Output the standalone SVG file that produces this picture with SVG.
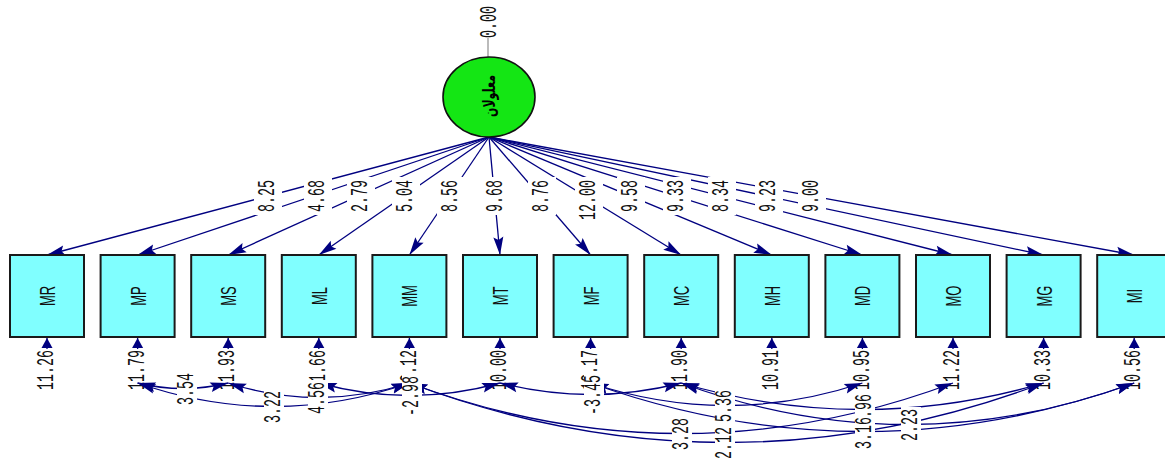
<svg xmlns="http://www.w3.org/2000/svg" width="1165" height="461" viewBox="0 0 1165 461">
<defs>
<style>
.ln{stroke:#000080;stroke-width:1.3;fill:none}
.top{marker-end:url(#ah)}
.cov{marker-start:url(#ah);marker-end:url(#ah)}
.err{marker-end:url(#eh)}
.num{font-family:"Liberation Mono","DejaVu Sans Mono",monospace;font-size:13.3px;fill:#111}
.nm{font-family:"Liberation Sans",Arial,sans-serif;font-size:13px;fill:#111}
.bx{fill:#80ffff;stroke:#1a1a1a;stroke-width:2}
.bg{fill:#fff}
</style>
<marker id="ah" markerUnits="userSpaceOnUse" markerWidth="20" markerHeight="12" refX="18" refY="5" orient="auto-start-reverse" overflow="visible"><path d="M0,0 L18,5 L0,10 L3,5 z" fill="#000080"/></marker>
<marker id="eh" markerUnits="userSpaceOnUse" markerWidth="12" markerHeight="12" refX="10" refY="5.5" orient="auto" overflow="visible"><path d="M0,0 L10,5.5 L0,11 z" fill="#000080"/></marker>
</defs>
<rect width="1165" height="461" fill="#fff"/>

<g id="connectors">
<line x1="488" y1="38" x2="488" y2="57" stroke="#bbb" stroke-width="2"/>
<path class="ln top" d="M489,137 L47,255"/>
<path class="ln top" d="M489,137 L137.6,255"/>
<path class="ln top" d="M489,137 L228.2,255"/>
<path class="ln top" d="M489,137 L318.8,255"/>
<path class="ln top" d="M489,137 L409.4,255"/>
<path class="ln top" d="M489,137 L500,255"/>
<path class="ln top" d="M489,137 L590.6,255"/>
<path class="ln top" d="M489,137 L681.2,255"/>
<path class="ln top" d="M489,137 L771.8,255"/>
<path class="ln top" d="M489,137 L862.4,255"/>
<path class="ln top" d="M489,137 L953,255"/>
<path class="ln top" d="M489,137 L1043.6,255"/>
<path class="ln top" d="M489,137 L1134.2,255"/>

<path class="ln err" d="M47,349 L47,338"/>
<path class="ln err" d="M137.6,349 L137.6,338"/>
<path class="ln err" d="M228.2,349 L228.2,338"/>
<path class="ln err" d="M318.8,349 L318.8,338"/>
<path class="ln err" d="M409.4,349 L409.4,338"/>
<path class="ln err" d="M500,349 L500,338"/>
<path class="ln err" d="M590.6,349 L590.6,338"/>
<path class="ln err" d="M681.2,349 L681.2,338"/>
<path class="ln err" d="M771.8,349 L771.8,338"/>
<path class="ln err" d="M862.4,349 L862.4,338"/>
<path class="ln err" d="M953,349 L953,338"/>
<path class="ln err" d="M1043.6,349 L1043.6,338"/>
<path class="ln err" d="M1134.2,349 L1134.2,338"/>

<g id="error-labels">
<text class="num" text-anchor="end" dominant-baseline="central" transform="translate(47,350) rotate(-90) scale(1,1.85)">11.26</text>
<text class="num" text-anchor="end" dominant-baseline="central" transform="translate(137.6,350) rotate(-90) scale(1,1.85)">11.79</text>
<text class="num" text-anchor="end" dominant-baseline="central" transform="translate(228.2,350) rotate(-90) scale(1,1.85)">11.93</text>
<text class="num" text-anchor="end" dominant-baseline="central" transform="translate(318.8,350) rotate(-90) scale(1,1.85)">11.66</text>
<text class="num" text-anchor="end" dominant-baseline="central" transform="translate(409.4,350) rotate(-90) scale(1,1.85)">12.12</text>
<text class="num" text-anchor="end" dominant-baseline="central" transform="translate(500,350) rotate(-90) scale(1,1.85)">10.00</text>
<text class="num" text-anchor="end" dominant-baseline="central" transform="translate(590.6,350) rotate(-90) scale(1,1.85)">12.17</text>
<text class="num" text-anchor="end" dominant-baseline="central" transform="translate(681.2,350) rotate(-90) scale(1,1.85)">11.90</text>
<text class="num" text-anchor="end" dominant-baseline="central" transform="translate(771.8,350) rotate(-90) scale(1,1.85)">10.91</text>
<text class="num" text-anchor="end" dominant-baseline="central" transform="translate(862.4,350) rotate(-90) scale(1,1.85)">10.95</text>
<text class="num" text-anchor="end" dominant-baseline="central" transform="translate(953,350) rotate(-90) scale(1,1.85)">11.22</text>
<text class="num" text-anchor="end" dominant-baseline="central" transform="translate(1043.6,350) rotate(-90) scale(1,1.85)">10.33</text>
<text class="num" text-anchor="end" dominant-baseline="central" transform="translate(1134.2,350) rotate(-90) scale(1,1.85)">10.56</text>
</g>

<path class="ln cov" d="M137.6,383 Q182.9,394 228.2,383"/>
<path class="ln cov" d="M137.6,383 Q273.5,430 409.4,383"/>
<path class="ln cov" d="M228.2,383 Q318.8,412 409.4,383"/>
<path class="ln cov" d="M318.8,383 Q409.4,408 500,383"/>
<path class="ln cov" d="M500,383 Q590.6,406 681.2,383"/>
<path class="ln cov" d="M409.4,383 Q681.2,484 953,383"/>
<path class="ln cov" d="M409.4,383 Q726.5,502 1043.6,383"/>
<path class="ln cov" d="M590.6,383 Q726.5,428 862.4,383"/>
<path class="ln cov" d="M590.6,383 Q862.4,480 1134.2,383"/>
<path class="ln cov" d="M681.2,383 Q862.4,436 1043.6,383"/>
<path class="ln cov" d="M681.2,383 Q907.7,466 1134.2,383"/>

<g id="path-labels">
<rect class="bg" x="254" y="177" width="28" height="38"/><text class="num" text-anchor="end" dominant-baseline="central" transform="translate(268,180) rotate(-90) scale(1,1.85)">8.25</text>
<rect class="bg" x="304" y="177" width="28" height="38"/><text class="num" text-anchor="end" dominant-baseline="central" transform="translate(318,180) rotate(-90) scale(1,1.85)">4.68</text>
<rect class="bg" x="347" y="177" width="28" height="38"/><text class="num" text-anchor="end" dominant-baseline="central" transform="translate(361,180) rotate(-90) scale(1,1.85)">2.79</text>
<rect class="bg" x="392" y="177" width="28" height="38"/><text class="num" text-anchor="end" dominant-baseline="central" transform="translate(406,180) rotate(-90) scale(1,1.85)">5.04</text>
<rect class="bg" x="437" y="177" width="28" height="38"/><text class="num" text-anchor="end" dominant-baseline="central" transform="translate(451,180) rotate(-90) scale(1,1.85)">8.56</text>
<rect class="bg" x="482" y="177" width="28" height="38"/><text class="num" text-anchor="end" dominant-baseline="central" transform="translate(496,180) rotate(-90) scale(1,1.85)">9.68</text>
<rect class="bg" x="528" y="177" width="28" height="38"/><text class="num" text-anchor="end" dominant-baseline="central" transform="translate(542,180) rotate(-90) scale(1,1.85)">8.76</text>
<rect class="bg" x="575" y="177" width="28" height="46"/><text class="num" text-anchor="end" dominant-baseline="central" transform="translate(589,180) rotate(-90) scale(1,1.85)">12.00</text>
<rect class="bg" x="617" y="177" width="28" height="38"/><text class="num" text-anchor="end" dominant-baseline="central" transform="translate(631,180) rotate(-90) scale(1,1.85)">9.58</text>
<rect class="bg" x="663" y="177" width="28" height="38"/><text class="num" text-anchor="end" dominant-baseline="central" transform="translate(677,180) rotate(-90) scale(1,1.85)">9.33</text>
<rect class="bg" x="708" y="177" width="28" height="38"/><text class="num" text-anchor="end" dominant-baseline="central" transform="translate(722,180) rotate(-90) scale(1,1.85)">8.34</text>
<rect class="bg" x="755" y="177" width="28" height="38"/><text class="num" text-anchor="end" dominant-baseline="central" transform="translate(769,180) rotate(-90) scale(1,1.85)">9.23</text>
<rect class="bg" x="798" y="177" width="28" height="38"/><text class="num" text-anchor="end" dominant-baseline="central" transform="translate(812,180) rotate(-90) scale(1,1.85)">9.00</text>

<rect class="bg" x="177" y="371" width="20" height="36"/><text class="num" text-anchor="middle" dominant-baseline="central" transform="translate(187,389) rotate(-90) scale(1,1.85)">3.54</text>
<rect class="bg" x="264" y="389" width="20" height="36"/><text class="num" text-anchor="middle" dominant-baseline="central" transform="translate(274,407) rotate(-90) scale(1,1.85)">3.22</text>
<rect class="bg" x="308" y="380" width="20" height="36"/><text class="num" text-anchor="middle" dominant-baseline="central" transform="translate(318,398) rotate(-90) scale(1,1.85)">4.56</text>
<rect class="bg" x="402" y="374" width="20" height="44"/><text class="num" text-anchor="middle" dominant-baseline="central" transform="translate(412,396) rotate(-90) scale(1,1.85)">-2.98</text>
<rect class="bg" x="584" y="373" width="20" height="44"/><text class="num" text-anchor="middle" dominant-baseline="central" transform="translate(594,395) rotate(-90) scale(1,1.85)">-3.45</text>
<rect class="bg" x="672" y="416" width="20" height="36"/><text class="num" text-anchor="middle" dominant-baseline="central" transform="translate(682,434) rotate(-90) scale(1,1.85)">3.28</text>
<rect class="bg" x="715" y="388" width="20" height="36"/><text class="num" text-anchor="middle" dominant-baseline="central" transform="translate(725,406) rotate(-90) scale(1,1.85)">5.36</text>
<rect class="bg" x="715" y="425" width="20" height="36"/><text class="num" text-anchor="middle" dominant-baseline="central" transform="translate(725,443) rotate(-90) scale(1,1.85)">2.12</text>
<rect class="bg" x="855" y="392" width="20" height="36"/><text class="num" text-anchor="middle" dominant-baseline="central" transform="translate(865,410) rotate(-90) scale(1,1.85)">1.96</text>
<rect class="bg" x="855" y="415" width="20" height="36"/><text class="num" text-anchor="middle" dominant-baseline="central" transform="translate(865,433) rotate(-90) scale(1,1.85)">3.16</text>
<rect class="bg" x="901" y="407" width="20" height="36"/><text class="num" text-anchor="middle" dominant-baseline="central" transform="translate(911,425) rotate(-90) scale(1,1.85)">2.23</text>
</g>
</g>

<g id="latent">
<text class="num" text-anchor="end" dominant-baseline="central" transform="translate(490,6) rotate(-90) scale(1,1.85)">0.00</text>
<ellipse cx="489" cy="97" rx="46" ry="40" fill="#14e614" stroke="#111" stroke-width="1.6"/>
<text text-anchor="middle" dominant-baseline="central" font-family="'DejaVu Sans','Noto Sans',sans-serif" font-weight="bold" font-size="11" fill="#000" transform="translate(489,96) rotate(-90) scale(1,1.5)">معلولان</text>
</g>

<g id="MR"><rect class="bx" x="10" y="255" width="74" height="82"/><text class="nm" text-anchor="middle" dominant-baseline="central" transform="translate(47,296) rotate(-90) scale(1,1.75)">MR</text></g>
<g id="MP"><rect class="bx" x="100.6" y="255" width="74" height="82"/><text class="nm" text-anchor="middle" dominant-baseline="central" transform="translate(137.6,296) rotate(-90) scale(1,1.75)">MP</text></g>
<g id="MS"><rect class="bx" x="191.2" y="255" width="74" height="82"/><text class="nm" text-anchor="middle" dominant-baseline="central" transform="translate(228.2,296) rotate(-90) scale(1,1.75)">MS</text></g>
<g id="ML"><rect class="bx" x="281.8" y="255" width="74" height="82"/><text class="nm" text-anchor="middle" dominant-baseline="central" transform="translate(318.8,296) rotate(-90) scale(1,1.75)">ML</text></g>
<g id="MM"><rect class="bx" x="372.4" y="255" width="74" height="82"/><text class="nm" text-anchor="middle" dominant-baseline="central" transform="translate(409.4,296) rotate(-90) scale(1,1.75)">MM</text></g>
<g id="MT"><rect class="bx" x="463" y="255" width="74" height="82"/><text class="nm" text-anchor="middle" dominant-baseline="central" transform="translate(500,296) rotate(-90) scale(1,1.75)">MT</text></g>
<g id="MF"><rect class="bx" x="553.6" y="255" width="74" height="82"/><text class="nm" text-anchor="middle" dominant-baseline="central" transform="translate(590.6,296) rotate(-90) scale(1,1.75)">MF</text></g>
<g id="MC"><rect class="bx" x="644.2" y="255" width="74" height="82"/><text class="nm" text-anchor="middle" dominant-baseline="central" transform="translate(681.2,296) rotate(-90) scale(1,1.75)">MC</text></g>
<g id="MH"><rect class="bx" x="734.8" y="255" width="74" height="82"/><text class="nm" text-anchor="middle" dominant-baseline="central" transform="translate(771.8,296) rotate(-90) scale(1,1.75)">MH</text></g>
<g id="MD"><rect class="bx" x="825.4" y="255" width="74" height="82"/><text class="nm" text-anchor="middle" dominant-baseline="central" transform="translate(862.4,296) rotate(-90) scale(1,1.75)">MD</text></g>
<g id="MO"><rect class="bx" x="916" y="255" width="74" height="82"/><text class="nm" text-anchor="middle" dominant-baseline="central" transform="translate(953,296) rotate(-90) scale(1,1.75)">MO</text></g>
<g id="MG"><rect class="bx" x="1006.6" y="255" width="74" height="82"/><text class="nm" text-anchor="middle" dominant-baseline="central" transform="translate(1043.6,296) rotate(-90) scale(1,1.75)">MG</text></g>
<g id="MI"><rect class="bx" x="1097.2" y="255" width="74" height="82"/><text class="nm" text-anchor="middle" dominant-baseline="central" transform="translate(1134.2,296) rotate(-90) scale(1,1.75)">MI</text></g>
</svg>
